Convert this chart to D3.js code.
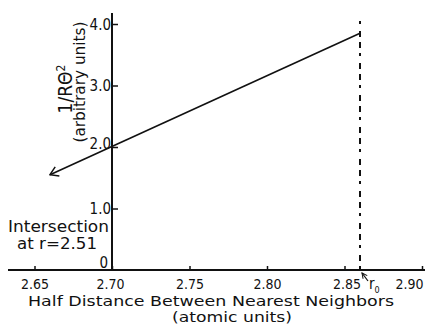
<!DOCTYPE html>
<html>
<head>
<meta charset="utf-8">
<script src="https://cdn.jsdelivr.net/npm/d3@7"></script>
<style>
  body { margin: 0; background: #fff; }
  text { font-family: "DejaVu Sans Condensed", "DejaVu Sans", sans-serif; fill: #111; }
</style>
</head>
<body>
<div id="chart"></div>
<script>
// Data
const xTicks = [2.65, 2.70, 2.75, 2.80, 2.85, 2.90];
const xTickLabels = ["2.65", "2.70", "2.75", "2.80", "2.85", "2.90"];
const yTicks = [0, 1, 2, 3, 4];
const yTickLabels = ["0", "1.0", "2.0", "3.0", "4.0"];
const lineR = [2.66, 2.86];
const lineV = [1.55, 3.85];
const r0 = 2.86;
const dashTop = 4.05;

function draw() {
  const dimensions = { width: 425, height: 325 };

  const svg = d3.select("#chart")
    .append("svg")
    .attr("width", dimensions.width)
    .attr("height", dimensions.height);

  // Scales
  const xScale = d3.scaleLinear().domain([2.65, 2.90]).range([34.5, 422]);
  const yScale = d3.scaleLinear().domain([0, 4]).range([270, 24]);

  // arrow markers
  const defs = svg.append("defs");
  defs.append("marker")
    .attr("id", "chev")
    .attr("viewBox", "0 0 12 12")
    .attr("refX", 1).attr("refY", 6)
    .attr("markerWidth", 12).attr("markerHeight", 12)
    .attr("markerUnits", "userSpaceOnUse")
    .attr("orient", "auto")
    .append("path")
    .attr("d", "M9,1 L1,6 L9,11")
    .attr("fill", "none").attr("stroke", "#111").attr("stroke-width", 1.5);
  defs.append("marker")
    .attr("id", "small")
    .attr("viewBox", "0 0 8 8")
    .attr("refX", 1).attr("refY", 4)
    .attr("markerWidth", 7).attr("markerHeight", 7)
    .attr("markerUnits", "userSpaceOnUse")
    .attr("orient", "auto")
    .append("path")
    .attr("d", "M7,1 L1,4 L7,7")
    .attr("fill", "none").attr("stroke", "#111").attr("stroke-width", 1.2);

  // X axis
  const xAxisGroup = svg.append("g")
    .attr("transform", `translate(0, ${yScale(0)})`);
  const bottomAxis = d3.axisBottom(xScale)
    .tickValues(xTicks)
    .tickFormat((d, i) => xTickLabels[i])
    .tickSizeInner(-4)
    .tickSizeOuter(0)
    .tickPadding(9);
  xAxisGroup.call(bottomAxis);
  xAxisGroup.attr("font-size", null).attr("font-family", null);
  xAxisGroup.select(".domain").remove();
  xAxisGroup.selectAll(".tick line").attr("stroke", "#111").attr("stroke-width", 1.5);
  xAxisGroup.selectAll(".tick text")
    .style("font-size", "14px")
    .attr("fill", "#111")
    .attr("dx", (d) => (d === 2.90 ? -13 : d === 2.70 ? -2 : d === 2.85 ? 2 : 0));
  svg.append("line")
    .attr("x1", 8).attr("x2", 425)
    .attr("y1", yScale(0)).attr("y2", yScale(0))
    .attr("stroke", "#111").attr("stroke-width", 2);

  // Y axis
  const yAxisGroup = svg.append("g")
    .attr("transform", `translate(${xScale(2.70)}, 0)`);
  const leftAxis = d3.axisLeft(yScale)
    .tickValues(yTicks)
    .tickFormat((d, i) => yTickLabels[i])
    .tickSizeInner(-6)
    .tickSizeOuter(0)
    .tickPadding(1);
  yAxisGroup.call(leftAxis);
  yAxisGroup.attr("font-size", null).attr("font-family", null);
  yAxisGroup.select(".domain").remove();
  yAxisGroup.selectAll(".tick line")
    .attr("stroke", "#111").attr("stroke-width", 1.5)
    .attr("display", (d) => (d === 0 ? "none" : null));
  yAxisGroup.selectAll(".tick text")
    .style("font-size", "15px")
    .attr("fill", "#111")
    .attr("dy", (d) => (d === 0 ? "-0.2em" : d === 2 ? "0.1em" : "0.35em"))
    .attr("dx", (d) => (d === 0 ? -3 : 0));
  svg.append("line")
    .attr("x1", xScale(2.70)).attr("x2", xScale(2.70))
    .attr("y1", 13).attr("y2", yScale(0))
    .attr("stroke", "#111").attr("stroke-width", 2);

  // Data line
  const pts = lineR.map((r, i) => [xScale(r), yScale(lineV[i])]);
  svg.append("path")
    .attr("d", d3.line()(pts))
    .attr("fill", "none")
    .attr("stroke", "#111")
    .attr("stroke-width", 1.6)
    .attr("marker-start", "url(#chev)");

  // r0 dashed line
  svg.append("line")
    .attr("x1", xScale(r0)).attr("x2", xScale(r0))
    .attr("y1", yScale(dashTop)).attr("y2", yScale(0))
    .attr("stroke", "#111")
    .attr("stroke-width", 2)
    .attr("stroke-dasharray", "3,7,6,5,6,5");

  // r0 label with arrow
  svg.append("line")
    .attr("x1", xScale(r0) + 2).attr("y1", yScale(0) + 3)
    .attr("x2", xScale(r0) + 8).attr("y2", yScale(0) + 11)
    .attr("stroke", "#111").attr("stroke-width", 1.2)
    .attr("marker-start", "url(#small)");
  const r0Text = svg.append("text")
    .attr("x", xScale(r0) + 9)
    .attr("y", yScale(0) + 19)
    .style("font-size", "15px");
  r0Text.append("tspan").text("r");
  r0Text.append("tspan").attr("dy", 4).style("font-size", "9px").text("0");

  // Annotation
  svg.append("text")
    .attr("x", 8).attr("y", 232)
    .style("font-size", "15px")
    .attr("textLength", 101)
    .attr("lengthAdjust", "spacingAndGlyphs")
    .text("Intersection");
  svg.append("text")
    .attr("x", 17).attr("y", 249)
    .style("font-size", "15px")
    .attr("textLength", 80)
    .attr("lengthAdjust", "spacingAndGlyphs")
    .text("at r=2.51");

  // Axis titles
  svg.append("text")
    .attr("x", 28).attr("y", 306)
    .style("font-size", "14px")
    .attr("textLength", 366)
    .attr("lengthAdjust", "spacingAndGlyphs")
    .text("Half Distance Between Nearest Neighbors");
  svg.append("text")
    .attr("x", 172).attr("y", 322)
    .style("font-size", "14px")
    .attr("textLength", 120)
    .attr("lengthAdjust", "spacingAndGlyphs")
    .text("(atomic units)");

  const yTitle = svg.append("text")
    .attr("transform", "translate(72, 89) rotate(-90)")
    .attr("text-anchor", "middle")
    .style("font-size", "19px");
  yTitle.append("tspan").text("1/RΘ");
  yTitle.append("tspan").attr("dy", -7).style("font-size", "12px").text("2");
  svg.append("text")
    .attr("transform", "translate(85, 82) rotate(-90)")
    .attr("text-anchor", "middle")
    .style("font-size", "15px")
    .attr("textLength", 121)
    .attr("lengthAdjust", "spacingAndGlyphs")
    .text("(arbitrary units)");
}

draw();
</script>
</body>
</html>
